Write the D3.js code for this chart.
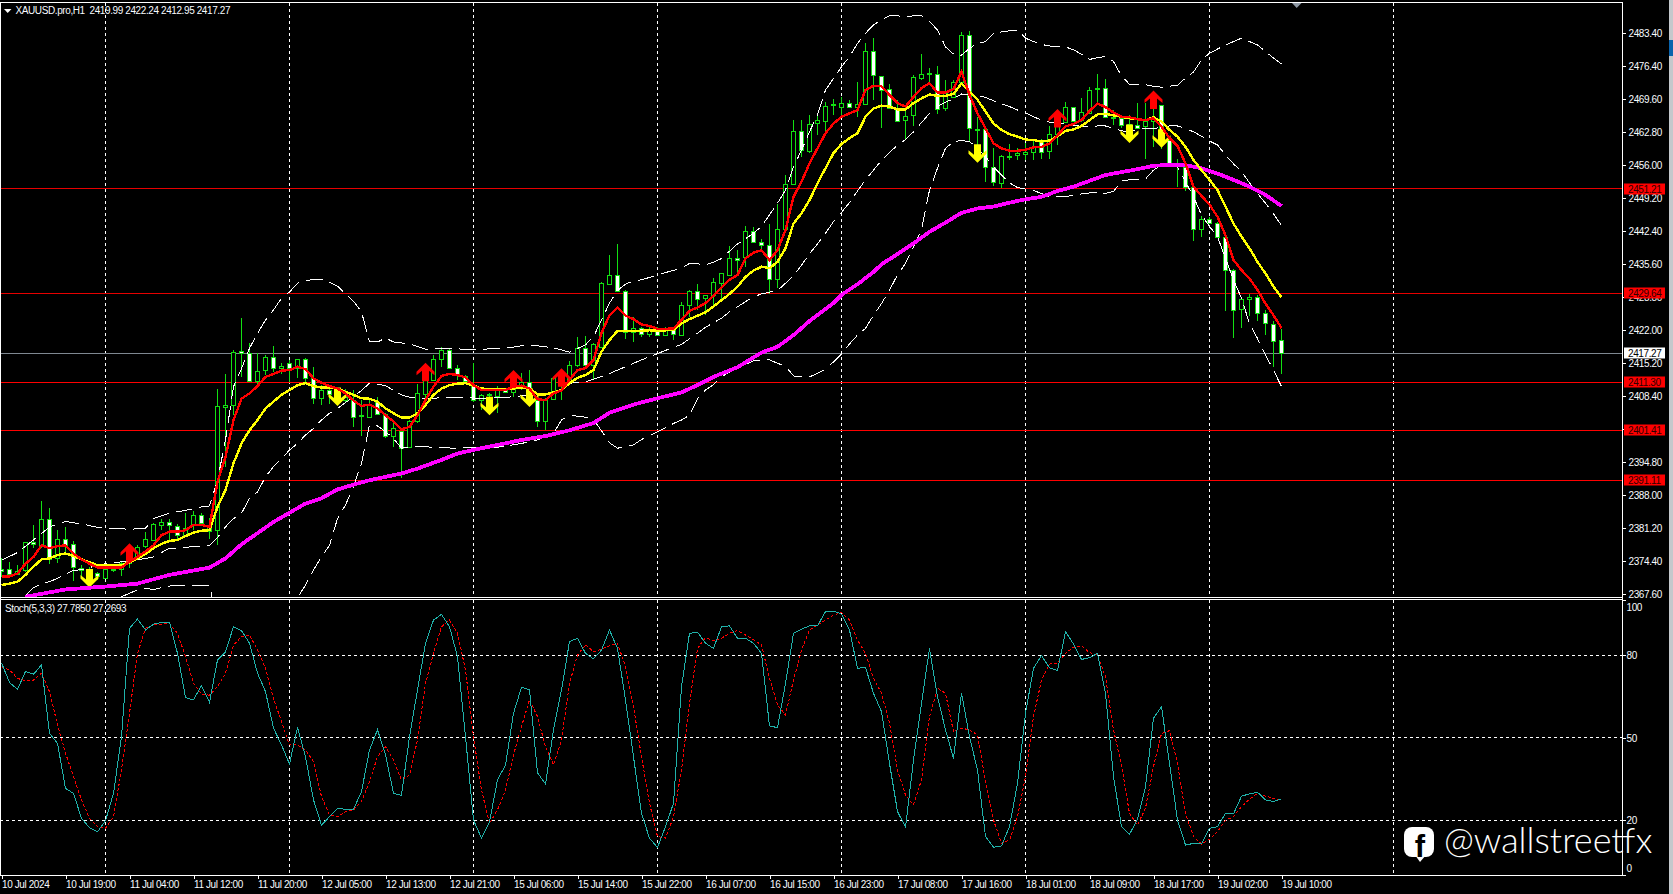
<!DOCTYPE html>
<html>
<head>
<meta charset="utf-8">
<title>XAUUSD.pro,H1</title>
<script src="https://cdn.jsdelivr.net/npm/d3@7"></script>
<style>
  html, body { margin: 0; padding: 0; background: #000; overflow: hidden; }
  svg { display: block; }
  text { font-family: "Liberation Sans", sans-serif; font-size: 10px; letter-spacing: -0.4px; fill: #f8fbff; white-space: pre; }
  .domain { display: none; }
  .tick line { stroke: #fff; shape-rendering: crispEdges; }
</style>
</head>
<body>
<svg width="1673" height="894"></svg>
<script>
// candles, one entry per H1 bar
const candleOpen = [2372.9,2372.9,2371.8,2372.5,2378.4,2377.7,2383.2,2375.0,2378.9,2377.9,2373.0,2372.9,2371.9,2371.0,2372.8,2372.9,2374.1,2375.3,2377.4,2378.8,2381.9,2382.6,2381.7,2379.9,2381.9,2384.0,2380.7,2380.8,2406.2,2406.7,2417.8,2417.3,2411.6,2413.7,2416.4,2414.2,2415.3,2414.2,2416.0,2412.1,2408.0,2409.6,2408.0,2407.6,2407.6,2404.2,2404.2,2407.3,2404.7,2400.1,2401.3,2398.0,2403.2,2408.9,2411.6,2416.0,2417.9,2414.2,2412.6,2410.7,2407.6,2408.6,2408.5,2409.7,2409.2,2410.5,2411.4,2407.6,2403.2,2407.8,2412.1,2411.0,2414.7,2418.3,2414.8,2418.6,2431.5,2433.4,2430.2,2421.6,2422.4,2421.2,2421.8,2421.0,2422.0,2421.1,2427.3,2430.2,2428.6,2429.2,2431.8,2433.6,2437.0,2437.0,2442.4,2440.1,2439.5,2432.5,2442.8,2452.1,2463.1,2459.0,2464.6,2465.2,2468.4,2468.1,2468.9,2468.1,2468.6,2479.5,2474.5,2471.7,2467.7,2465.3,2466.3,2474.1,2474.9,2474.9,2467.7,2470.1,2473.2,2482.8,2463.5,2463.4,2455.6,2452.4,2457.9,2458.1,2458.3,2458.8,2461.2,2458.8,2462.4,2465.0,2468.0,2465.2,2466.8,2471.7,2471.9,2465.7,2465.7,2464.1,2464.4,2464.0,2465.0,2468.4,2461.2,2455.7,2455.7,2451.5,2442.8,2445.0,2444.2,2441.2,2434.4,2426.3,2428.4,2428.8,2425.5,2423.4,2419.99]
const candleHigh = [2375.0,2374.3,2373.6,2378.4,2381.9,2386.8,2385.3,2380.8,2381.4,2378.6,2373.6,2373.3,2372.2,2373.3,2373.6,2374.3,2376.0,2377.7,2380.4,2382.2,2383.2,2383.2,2382.1,2384.3,2384.8,2384.3,2383.4,2409.9,2413.0,2417.9,2424.5,2419.3,2417.3,2416.9,2418.8,2415.3,2415.9,2416.0,2416.2,2414.5,2410.7,2410.2,2409.3,2410.0,2409.7,2407.6,2407.6,2408.3,2404.9,2402.8,2401.8,2403.5,2410.9,2413.1,2416.9,2418.5,2418.1,2414.8,2412.8,2415.2,2408.9,2409.1,2410.5,2410.0,2412.8,2413.3,2413.9,2408.6,2408.0,2412.4,2412.4,2415.7,2420.6,2420.8,2419.3,2432.0,2437.5,2439.8,2430.3,2424.8,2422.7,2422.7,2422.7,2422.7,2422.7,2427.9,2430.4,2431.5,2429.3,2432.7,2433.9,2439.4,2438.5,2443.5,2443.3,2440.9,2444.0,2448.0,2454.0,2465.3,2465.3,2466.4,2466.7,2469.1,2469.6,2470.1,2469.5,2473.1,2481.1,2482.3,2474.5,2472.7,2469.5,2468.1,2474.6,2478.9,2476.0,2476.5,2473.6,2473.6,2483.5,2483.6,2465.9,2463.4,2459.5,2458.1,2460.4,2459.5,2460.5,2461.2,2461.5,2464.1,2464.3,2469.1,2468.1,2469.9,2472.2,2474.8,2473.8,2467.4,2466.2,2466.4,2468.8,2468.8,2469.1,2468.4,2461.6,2457.4,2455.9,2451.7,2445.5,2445.4,2444.4,2441.3,2434.6,2428.8,2429.5,2429.3,2426.2,2424.0,2422.24]
const candleLow = [2371.2,2371.2,2371.6,2372.2,2377.1,2377.1,2373.8,2374.0,2376.0,2370.4,2371.2,2371.2,2370.5,2370.9,2372.2,2371.4,2373.1,2374.7,2377.1,2378.6,2380.8,2378.6,2378.6,2379.8,2380.8,2382.2,2379.0,2377.7,2393.9,2404.5,2412.4,2411.4,2410.5,2412.8,2413.5,2413.0,2411.4,2412.1,2411.4,2406.9,2406.6,2406.9,2407.3,2407.3,2402.1,2400.2,2403.9,2404.5,2399.9,2398.0,2391.5,2397.9,2403.0,2408.0,2411.5,2414.5,2414.0,2411.8,2411.1,2407.3,2405.6,2408.3,2404.9,2409.0,2408.3,2409.7,2408.2,2402.0,2401.4,2407.6,2407.6,2410.7,2414.5,2414.5,2411.8,2418.3,2431.3,2430.0,2420.3,2419.6,2420.7,2420.7,2421.0,2420.8,2420.1,2421.0,2424.8,2426.2,2425.1,2426.7,2428.2,2433.4,2433.7,2435.1,2439.9,2438.2,2429.5,2430.8,2442.7,2451.9,2457.8,2458.6,2462.2,2462.9,2466.4,2466.0,2467.9,2466.0,2468.4,2469.5,2463.6,2467.5,2465.2,2461.5,2464.0,2473.6,2472.5,2466.6,2467.2,2469.8,2472.5,2460.9,2459.8,2452.6,2451.8,2451.4,2457.0,2457.1,2457.1,2457.1,2457.4,2457.4,2460.2,2464.8,2465.0,2465.0,2466.7,2469.1,2465.7,2464.3,2463.6,2462.2,2463.6,2457.3,2459.7,2459.3,2456.3,2451.6,2450.8,2440.3,2441.3,2444.0,2441.2,2426.0,2420.5,2422.5,2424.9,2423.9,2421.0,2414.4,2412.95]
const candleClose = [2372.5,2371.9,2372.5,2378.3,2377.9,2383.2,2375.0,2378.9,2377.7,2373.1,2372.6,2371.8,2371.2,2372.9,2372.9,2374.1,2375.3,2377.4,2378.9,2382.1,2382.6,2381.9,2379.9,2381.3,2384.0,2382.3,2381.5,2406.4,2406.7,2417.6,2417.3,2411.6,2413.7,2416.4,2414.2,2414.7,2414.2,2416.0,2412.1,2408.0,2409.6,2408.7,2408.7,2408.2,2404.2,2404.5,2406.6,2404.9,2400.1,2401.8,2397.9,2403.4,2409.0,2411.8,2416.0,2417.9,2414.2,2413.0,2411.6,2407.6,2408.6,2408.9,2409.7,2409.2,2410.5,2411.4,2408.3,2403.2,2407.6,2412.1,2411.0,2414.8,2418.3,2414.8,2419.1,2431.7,2433.4,2430.1,2421.7,2422.4,2421.2,2422.0,2421.0,2422.5,2421.2,2427.3,2430.2,2428.6,2429.2,2431.9,2433.9,2437.0,2436.6,2442.4,2440.1,2439.5,2432.5,2442.8,2452.1,2463.1,2459.1,2464.6,2465.3,2468.3,2468.7,2468.9,2468.1,2468.7,2479.5,2474.5,2471.7,2467.7,2465.3,2466.2,2474.1,2474.9,2475.1,2467.7,2470.8,2473.2,2482.8,2463.6,2463.4,2455.6,2452.5,2457.9,2458.0,2458.6,2458.8,2459.8,2458.8,2462.4,2464.3,2468.0,2465.2,2466.9,2471.5,2471.9,2466.0,2466.0,2464.3,2464.5,2463.8,2465.1,2465.7,2461.2,2456.4,2456.4,2451.5,2442.8,2444.9,2444.2,2441.3,2434.4,2426.2,2428.4,2428.8,2425.5,2423.4,2419.9,2417.27]

// fast and slow moving averages, one entry per bar
const maFast = [2371.3,2371.3,2371.9,2373.9,2375.3,2377.7,2377.1,2377.5,2377.7,2376.0,2374.8,2373.9,2373.1,2373.1,2373.1,2373.1,2374.3,2375.3,2376.4,2377.7,2379.8,2380.5,2380.5,2380.8,2381.9,2381.9,2381.5,2390.8,2395.9,2403.5,2407.9,2409.0,2410.5,2412.4,2413.0,2413.7,2413.8,2414.5,2414.0,2412.1,2411.2,2410.5,2410.0,2409.0,2407.5,2406.4,2406.7,2405.9,2404.5,2403.2,2401.6,2402.1,2404.5,2407.6,2410.4,2412.6,2413.0,2412.8,2412.3,2410.7,2409.7,2409.7,2409.7,2409.7,2410.4,2410.6,2410.0,2407.8,2407.6,2409.0,2409.6,2411.8,2413.8,2414.2,2415.9,2421.4,2425.1,2426.7,2425.0,2424.3,2423.2,2422.9,2422.3,2422.3,2422.4,2424.1,2426.0,2426.7,2427.6,2429.1,2430.8,2432.4,2433.4,2436.8,2438.0,2438.5,2436.5,2438.5,2442.7,2449.5,2452.6,2456.4,2459.5,2462.6,2464.6,2466.0,2466.7,2467.4,2471.5,2472.4,2472.3,2470.5,2468.8,2468.1,2470.1,2471.9,2472.9,2471.0,2471.0,2471.7,2475.3,2470.5,2466.7,2463.6,2460.5,2459.5,2459.0,2459.0,2459.2,2459.7,2459.8,2460.5,2462.2,2464.0,2464.5,2465.3,2467.2,2468.7,2468.0,2466.9,2466.0,2465.9,2465.5,2465.3,2465.7,2464.0,2461.6,2460.0,2456.4,2451.6,2449.7,2447.9,2445.4,2441.6,2436.5,2434.4,2432.7,2430.3,2427.5,2425.1,2422.5]
const maSlow = [2369.5,2369.8,2370.2,2371.6,2373.3,2374.8,2375.0,2375.7,2376.0,2375.5,2374.8,2374.2,2373.6,2373.6,2373.6,2373.6,2374.2,2375.0,2375.9,2377.1,2378.0,2378.6,2378.8,2379.6,2380.3,2380.7,2380.8,2385.6,2389.1,2394.6,2398.7,2401.4,2403.5,2405.9,2407.3,2408.7,2409.7,2410.7,2411.1,2410.5,2410.2,2410.2,2410.0,2409.3,2408.7,2408.0,2407.9,2407.3,2405.9,2404.9,2404.0,2404.0,2404.9,2406.6,2408.7,2410.0,2410.7,2411.0,2411.1,2410.6,2410.0,2409.9,2409.9,2409.9,2410.0,2410.2,2410.0,2408.8,2408.8,2409.2,2409.7,2411.1,2412.2,2412.8,2413.8,2417.6,2420.0,2421.9,2421.9,2421.9,2421.9,2422.0,2422.0,2422.0,2422.1,2423.4,2424.3,2425.0,2425.7,2426.9,2428.2,2429.5,2431.0,2433.0,2434.3,2435.1,2434.8,2436.1,2438.9,2444.0,2446.1,2448.8,2452.3,2455.4,2458.5,2460.4,2461.6,2462.6,2466.0,2467.7,2468.3,2468.1,2467.5,2467.5,2468.8,2469.8,2470.6,2470.3,2470.3,2470.7,2472.9,2471.2,2469.5,2467.1,2464.6,2463.3,2462.4,2461.9,2461.3,2461.2,2460.9,2461.1,2462.0,2463.1,2463.4,2464.1,2465.3,2466.5,2466.6,2466.3,2466.0,2465.7,2465.5,2465.3,2465.9,2465.0,2463.3,2461.9,2459.8,2457.1,2455.0,2453.0,2450.9,2447.5,2444.0,2441.3,2438.9,2436.1,2433.7,2431.0,2428.8]

// the long moving average and the three bands, read at the bars listed
const maLongBars = [3,8,13,17,21,26,28,30,34,36,38,40,42,44,46,50,52,55,57,60,65,68,71,74,76,79,82,85,87,89,92,95,97,99,101,104,105,107,109,110,112,114,116,118,120,122,124,126,128,130,132,134,136,138,140,142,144,146,148,150,152,154,156,158,160]
const maLong = [2367.1,2368.6,2369.2,2369.8,2371.6,2373.1,2375.0,2377.9,2382.5,2384.4,2386.3,2387.4,2389.2,2390.2,2391.1,2392.5,2393.5,2395.3,2396.6,2397.7,2399.4,2400.2,2401.4,2402.9,2405.0,2406.7,2408.0,2409.2,2410.7,2412.4,2414.4,2417.4,2418.6,2421.0,2423.9,2427.6,2429.3,2431.5,2434.0,2435.6,2437.7,2439.9,2442.3,2444.2,2446.2,2447.1,2447.5,2448.3,2449.0,2449.5,2450.7,2451.6,2452.8,2454.0,2454.6,2455.2,2455.9,2456.1,2456.0,2455.4,2454.3,2453.0,2451.6,2449.9,2447.6]

const bandUpperBars = [0,2,5,6,8,10,12,14,16,18,19,21,23,25,26,27,28,29,30,31,32,33,34,35,36,37,38,39,40,41,42,43,44,45,46,47,48,49,51,53,55,58,60,63,65,67,69,71,73,74,75,76,77,78,79,80,81,82,83,85,86,87,88,89,90,92,94,95,97,98,99,100,101,102,103,104,105,106,107,108,109,110,111,112,113,114,115,116,117,118,119,120,121,122,123,124,125,126,127,128,129,130,131,132,133,134,135,136,137,138,139,140,141,142,143,144,145,146,147,148,149,150,151,153,155,157,159,160]
const bandUpper = [2374.6,2376.2,2380.1,2381.5,2382.6,2382.1,2381.4,2381.2,2381.0,2381.2,2383.2,2384.3,2384.9,2385.6,2385.8,2391.1,2399.4,2410.4,2414.1,2418.3,2421.4,2424.1,2426.2,2428.6,2429.9,2431.7,2432.2,2432.5,2432.5,2431.9,2431.1,2429.5,2428.0,2425.8,2419.6,2419.6,2420.4,2419.6,2419.2,2418.1,2418.3,2418.1,2418.1,2418.3,2418.8,2418.8,2418.4,2417.5,2419.0,2420.7,2424.1,2427.6,2430.2,2431.5,2432.2,2432.4,2432.9,2433.4,2433.9,2434.8,2435.8,2435.7,2435.5,2436.0,2436.8,2439.8,2442.0,2443.4,2448.2,2450.9,2455.7,2459.1,2462.9,2466.4,2471.5,2473.9,2476.3,2478.4,2481.1,2483.2,2484.9,2486.0,2486.8,2486.8,2486.6,2486.8,2486.8,2485.6,2483.9,2480.4,2478.9,2478.7,2480.1,2481.1,2481.5,2483.2,2483.5,2483.7,2483.9,2482.2,2481.5,2480.9,2480.6,2480.4,2480.4,2479.8,2478.9,2477.8,2478.2,2478.4,2477.4,2474.4,2472.7,2472.7,2472.6,2472.3,2472.1,2472.3,2472.5,2474.0,2475.2,2477.7,2479.1,2480.8,2482.2,2480.8,2478.1,2476.9]

const bandMiddleBars = [3,4,5,6,7,8,9,10,11,12,13,14,15,16,17,18,19,20,21,22,23,24,25,26,27,28,29,30,31,32,33,34,35,36,37,38,39,40,41,42,43,44,45,46,47,48,49,50,51,53,56,58,60,62,64,66,68,70,71,73,74,76,78,80,82,84,85,87,88,90,91,93,94,95,97,98,99,100,101,102,103,104,105,106,107,108,109,110,111,112,113,114,115,116,117,118,119,120,121,122,123,124,125,126,127,128,129,130,131,132,133,134,135,136,137,138,139,140,141,142,143,144,145,146,147,148,149,150,151,152,153,154,155,156,157,158,159,160]
const bandMiddle = [2367.4,2369.0,2369.7,2370.2,2370.9,2371.8,2372.5,2372.7,2373.1,2373.6,2373.9,2374.1,2374.3,2374.5,2374.7,2375.0,2375.3,2376.2,2377.1,2377.1,2377.3,2377.4,2377.5,2377.7,2379.3,2381.5,2383.2,2384.3,2387.4,2388.7,2391.8,2393.9,2395.6,2397.3,2398.7,2400.4,2401.8,2403.5,2404.9,2405.9,2407.1,2408.3,2409.6,2411.1,2410.9,2410.6,2409.6,2408.7,2408.2,2408.0,2408.1,2408.1,2408.0,2408.1,2408.3,2408.7,2409.0,2409.6,2411.1,2411.4,2411.9,2413.1,2414.5,2415.9,2417.2,2418.5,2419.1,2421.4,2422.6,2424.5,2425.8,2427.9,2428.9,2429.5,2430.2,2431.7,2433.2,2435.4,2437.8,2439.8,2442.0,2444.4,2446.3,2448.3,2450.7,2453.0,2455.0,2457.0,2458.7,2460.1,2461.3,2462.9,2464.8,2466.7,2468.1,2469.0,2469.7,2470.7,2470.6,2470.3,2470.0,2469.3,2468.7,2468.1,2467.4,2466.8,2466.0,2465.3,2464.9,2464.8,2464.6,2464.3,2464.0,2464.0,2464.1,2464.1,2463.6,2463.1,2462.9,2463.3,2463.6,2463.6,2463.8,2464.1,2464.1,2463.6,2462.9,2462.0,2461.0,2460.2,2458.1,2456.3,2454.7,2452.4,2450.2,2448.2,2446.0,2443.6]

const bandLowerBars = [15,17,18,19,21,23,25,26,27,28,29,30,31,32,33,34,35,36,37,38,39,40,41,42,43,44,45,46,47,48,49,50,51,53,55,57,59,62,64,66,67,69,70,71,73,74,75,76,77,79,80,82,84,85,86,87,88,89,90,91,92,93,94,95,96,97,98,99,100,101,102,103,104,105,106,107,108,109,110,111,112,113,114,115,116,117,118,119,120,121,122,123,124,125,126,127,128,129,130,131,132,133,134,135,136,137,138,139,140,141,142,143,144,145,146,147,148,149,150,151,152,153,154,155,156,157,158,159,160]
const bandLower = [2367.1,2368.5,2368.8,2368.6,2369.3,2369.5,2369.5,2369.4,2362,2350,2342,2340,2342,2345,2350,2354,2359,2363.7,2366.9,2369.5,2372.6,2375.3,2377.7,2383.2,2386.0,2389.8,2394.6,2402.5,2402.3,2401.1,2399.7,2397.7,2398.0,2398.0,2397.8,2397.7,2397.9,2397.9,2398.4,2399.0,2399.4,2400.8,2403.5,2404.5,2404.1,2403.6,2401.3,2398.8,2397.7,2398.4,2399.5,2401.1,2402.8,2403.5,2404.5,2407.9,2409.7,2410.8,2412.4,2413.4,2414.5,2415.0,2415.7,2415.9,2415.9,2415.2,2414.6,2412.6,2412.4,2412.4,2413.1,2414.0,2415.5,2417.1,2419.2,2421.0,2422.4,2425.1,2427.5,2430.3,2433.4,2435.8,2439.2,2442.7,2450.9,2455.4,2459.5,2460.9,2461.1,2460.9,2459.5,2457.8,2455.7,2454.0,2452.4,2451.4,2451.1,2450.8,2450.2,2449.5,2449.5,2449.5,2449.9,2450.1,2450.3,2450.3,2450.2,2450.6,2452.8,2453.0,2453.0,2453.2,2455.0,2456.1,2456.4,2455.6,2452.6,2449.5,2445.8,2443.4,2441.3,2436.8,2432.4,2428.6,2423.4,2420.3,2416.9,2413.8,2410.4]

// stochastic %K and %D, one entry per bar
const stochMain = [77.3,70.1,67.6,74.1,73.1,76.5,51.6,48.0,31.6,29.8,20.7,17.3,15.8,19.9,29.8,50.4,89.8,93.2,89.2,91.3,92.0,92.0,80.7,64.6,63.8,69.0,62.9,78.3,81.2,90.4,89.0,84.4,73.5,66.8,53.5,47.4,40.5,53.8,43.1,27.4,18.2,21.3,24.4,24.0,24.0,30.4,45.6,52.9,43.8,29.8,29.1,50.4,67.4,84.4,92.8,94.9,90.4,79.5,50.4,20.1,13.5,19.5,34.7,40.1,58.9,68.4,67.4,37.3,33.2,52.9,67.4,85.0,86.2,80.7,78.7,81.9,89.2,82.5,63.8,43.1,22.5,13.5,10.1,17.7,26.2,68.6,88.0,88.4,84.4,82.5,90.4,90.7,86.2,86.2,84.4,80.7,54.3,53.7,69.8,88.0,89.5,90.7,90.7,95.9,96.1,95.0,89.2,75.3,75.6,66.2,59.5,40.7,23.2,17.5,41.9,62.5,82.5,65.0,52.9,42.5,66.2,50.4,38.3,14.1,10.2,10.7,17.7,33.5,58.9,75.3,79.9,75.5,74.4,88.6,84.1,78.5,79.1,80.7,66.2,35.9,17.7,14.9,20.4,32.2,57.1,61.3,40.7,20.1,11.0,11.6,11.4,17.1,17.7,22.5,22.3,28.8,29.6,30.2,27.4,26.8,27.785]
const stochSignal = [75.9,74.7,71.6,70.7,71.0,73.5,66.8,54.7,44.4,35.9,27.4,20.7,17.7,17.1,21.3,38.3,58.9,80.7,89.8,91.0,91.3,91.6,88.0,79.5,69.8,65.8,65.5,68.6,73.5,83.7,86.8,87.4,81.9,75.3,64.3,55.9,47.4,47.4,45.6,41.3,28.6,21.9,21.3,23.2,23.8,26.8,34.0,43.1,46.8,41.9,34.7,36.5,49.2,69.8,80.7,90.4,92.8,88.0,74.7,50.4,31.0,18.9,23.8,31.0,43.8,54.1,63.8,57.7,46.8,40.1,49.2,69.8,80.1,83.8,81.3,82.2,83.5,84.4,75.9,61.3,43.1,26.2,14.1,13.5,21.3,38.3,62.5,82.5,86.5,85.3,86.2,88.0,89.0,87.4,85.6,83.8,71.6,61.9,58.3,71.0,81.9,89.2,91.0,92.8,94.7,95.5,92.8,85.6,80.7,71.6,66.2,55.3,38.3,29.2,25.6,34.7,57.7,68.0,66.2,52.2,53.5,52.9,51.0,34.1,20.1,11.6,12.8,21.3,35.9,57.7,71.0,76.8,77.1,80.7,82.9,83.4,81.0,80.1,72.2,52.9,40.1,22.5,18.3,24.4,39.5,51.6,52.6,40.7,22.5,14.1,11.4,13.1,15.9,20.0,21.3,25.0,27.6,29.8,28.8,28.0,27.2693]

// signal arrows: bar and the price of the arrow tip
const upArrowBars = [16,53,64,70,132,144]
const upArrowPrices = [2378.1,2415.3,2413.8,2414.2,2467.6,2471.4]
const downArrowBars = [11,42,61,66,122,141,145]
const downArrowPrices = [2369.0,2406.4,2404.5,2406.2,2456.5,2460.6,2459.6]

// horizontal levels
const levelPrices = [2451.21,2429.64,2411.30,2401.41,2391.11]
const lastPrice = 2417.27

// axis ticks
const priceTicks = [2483.2,2476.4,2469.6,2462.8,2456,2449.2,2442.4,2435.6,2428.8,2422,2415.2,2408.4,2401.6,2394.8,2388,2381.2,2374.4,2367.6]
const priceTickLabels = ['2483.40','2476.40','2469.60','2462.80','2456.00','2449.20','2442.40','2435.60','2428.80','2422.00','2415.20','2408.40','2401.60','2394.80','2388.00','2381.20','2374.40','2367.60']
const stochTicks = [100,80,50,20,0]
const stochLevels = [80,50,20]
const timeTickBars = [0,8,16,24,32,40,48,56,64,72,80,88,96,104,112,120,128,136,144,152,160]
const timeTickLabels = ['10 Jul 2024','10 Jul 19:00','11 Jul 04:00','11 Jul 12:00','11 Jul 20:00','12 Jul 05:00','12 Jul 13:00','12 Jul 21:00','15 Jul 06:00','15 Jul 14:00','15 Jul 22:00','16 Jul 07:00','16 Jul 15:00','16 Jul 23:00','17 Jul 08:00','17 Jul 16:00','18 Jul 01:00','18 Jul 09:00','18 Jul 17:00','19 Jul 02:00','19 Jul 10:00']
const gridBars = [13,36,59,82,105,128,151,174]

// scales, bars are 8px apart
const barScale = d3.scaleLinear().domain([0, 160]).range([1.5, 1281.5])
const priceScale = d3.scaleLinear().domain([2367.6, 2483.2]).range([594.3, 33.3])
const stochScale = d3.scaleLinear().domain([0, 100]).range([875.3, 600.3])

const chartRight = 1622.5
const mainTop = 2.5, mainBottom = 597.5
const stochTop = 599.5, stochBottom = 875.5

const svg = d3.select('svg')

// window sliver on the right
svg.append('rect').attr('x', 1669).attr('y', 0).attr('width', 4).attr('height', 894).attr('fill', '#c4c8cc')
svg.append('rect').attr('x', 1669).attr('y', 40).attr('width', 4).attr('height', 16).attr('fill', '#0a64ad')

// clipping for the two panes
const defs = svg.append('defs')
defs.append('clipPath').attr('id', 'mainClip').append('rect')
  .attr('x', 0).attr('y', mainTop).attr('width', chartRight).attr('height', mainBottom - mainTop)
defs.append('clipPath').attr('id', 'stochClip').append('rect')
  .attr('x', 0).attr('y', stochTop).attr('width', chartRight).attr('height', stochBottom - stochTop)

const mainPane = svg.append('g').attr('clip-path', 'url(#mainClip)')
const stochPane = svg.append('g').attr('clip-path', 'url(#stochClip)')

// vertical grid in both panes
const drawGrid = function (pane, top, bottom) {
  pane.selectAll('line.grid')
    .data(gridBars)
    .enter()
    .append('line')
    .attr('class', 'grid')
    .attr('x1', d => barScale(d)).attr('x2', d => barScale(d))
    .attr('y1', top).attr('y2', bottom)
    .attr('stroke', '#fff')
    .attr('stroke-dasharray', '3 3')
    .attr('shape-rendering', 'crispEdges')
}
drawGrid(mainPane, mainTop, mainBottom)
drawGrid(stochPane, stochTop, stochBottom)

// price levels
mainPane.selectAll('line.level')
  .data(levelPrices)
  .enter()
  .append('line')
  .attr('class', 'level')
  .attr('x1', 0).attr('x2', chartRight)
  .attr('y1', d => priceScale(d)).attr('y2', d => priceScale(d))
  .attr('stroke', (d, i) => i < 2 ? '#e60000' : '#ff0000')
  .attr('shape-rendering', 'crispEdges')

mainPane.append('line')
  .attr('x1', 0).attr('x2', chartRight)
  .attr('y1', priceScale(lastPrice)).attr('y2', priceScale(lastPrice))
  .attr('stroke', '#7f8891')
  .attr('shape-rendering', 'crispEdges')

// candles
const candleGreen = '#12e012'
const bars = candleOpen.map((o, i) => ({ i, o, h: candleHigh[i], l: candleLow[i], c: candleClose[i] }))

mainPane.selectAll('line.wick')
  .data(bars)
  .enter()
  .append('line')
  .attr('class', 'wick')
  .attr('x1', d => barScale(d.i)).attr('x2', d => barScale(d.i))
  .attr('y1', d => priceScale(d.h)).attr('y2', d => priceScale(d.l))
  .attr('stroke', candleGreen)
  .attr('shape-rendering', 'crispEdges')

mainPane.selectAll('rect.body')
  .data(bars)
  .enter()
  .append('rect')
  .attr('class', 'body')
  .attr('x', d => barScale(d.i) - 2)
  .attr('width', 4)
  .attr('y', d => Math.round(priceScale(Math.max(d.o, d.c))) + 0.5)
  .attr('height', d => Math.max(1, Math.round(Math.abs(priceScale(d.o) - priceScale(d.c)))))
  .attr('fill', d => d.c >= d.o ? '#000' : '#fff')
  .attr('stroke', candleGreen)
  .attr('shape-rendering', 'crispEdges')

// line helpers
const seriesLine = (scale) => d3.line().x(d => barScale(d[0])).y(d => scale(d[1]))
const priceLine = seriesLine(priceScale)
const stochLine = seriesLine(stochScale)
const perBar = values => values.map((v, i) => [i, v])

// bollinger bands, dashed
const bands = [d3.zip(bandUpperBars, bandUpper), d3.zip(bandMiddleBars, bandMiddle), d3.zip(bandLowerBars, bandLower)]
mainPane.selectAll('path.band')
  .data(bands)
  .enter()
  .append('path')
  .attr('class', 'band')
  .attr('d', priceLine)
  .attr('fill', 'none')
  .attr('stroke', '#fff')
  .attr('stroke-dasharray', '17 7')
  .attr('shape-rendering', 'crispEdges')

// arrows, tip at the anchor price
const upShape = [[0,0],[9,9],[9,12.5],[3.5,8],[3.5,18.5],[-3.5,18.5],[-3.5,8],[-9,12.5],[-9,9]]
const downShape = upShape.map(p => [p[0], -p[1]])
const arrowLine = d3.line().curve(d3.curveLinearClosed)

const drawArrows = function (barsList, prices, shape, colour) {
  mainPane.selectAll('path.arrow-' + colour.slice(1))
    .data(d3.zip(barsList, prices))
    .enter()
    .append('path')
    .attr('class', 'arrow-' + colour.slice(1))
    .attr('d', arrowLine(shape))
    .attr('transform', d => `translate(${barScale(d[0])},${priceScale(d[1])})`)
    .attr('fill', colour)
}
drawArrows(upArrowBars, upArrowPrices, upShape, '#ff0000')
drawArrows(downArrowBars, downArrowPrices, downShape, '#ffff00')

// moving averages
mainPane.append('path').datum(d3.zip(maLongBars, maLong))
  .attr('d', priceLine).attr('fill', 'none').attr('stroke', '#ff00ff').attr('stroke-width', 3.8)
  .attr('shape-rendering', 'crispEdges')
mainPane.append('path').datum(perBar(maSlow))
  .attr('d', priceLine).attr('fill', 'none').attr('stroke', '#ffff00').attr('stroke-width', 2.4)
  .attr('shape-rendering', 'crispEdges')
mainPane.append('path').datum(perBar(maFast))
  .attr('d', priceLine).attr('fill', 'none').attr('stroke', '#ff0000').attr('stroke-width', 2.4)
  .attr('shape-rendering', 'crispEdges')

// stochastic pane
stochPane.selectAll('line.stochlevel')
  .data(stochLevels)
  .enter()
  .append('line')
  .attr('class', 'stochlevel')
  .attr('x1', 0).attr('x2', chartRight)
  .attr('y1', d => stochScale(d)).attr('y2', d => stochScale(d))
  .attr('stroke', '#fff')
  .attr('stroke-dasharray', '3 3')
  .attr('shape-rendering', 'crispEdges')

stochPane.append('path').datum(perBar(stochSignal))
  .attr('d', stochLine).attr('fill', 'none').attr('stroke', '#ff0000').attr('stroke-dasharray', '3 2')
  .attr('shape-rendering', 'crispEdges')
stochPane.append('path').datum(perBar(stochMain))
  .attr('d', stochLine).attr('fill', 'none').attr('stroke', '#20b2aa')
  .attr('shape-rendering', 'crispEdges')

// frames
const frameLine = function (x1, y1, x2, y2) {
  svg.append('line').attr('x1', x1).attr('y1', y1).attr('x2', x2).attr('y2', y2)
    .attr('stroke', '#fff').attr('shape-rendering', 'crispEdges')
}
frameLine(0, mainTop, chartRight, mainTop)
frameLine(0, mainBottom, chartRight, mainBottom)
frameLine(0, stochTop, chartRight, stochTop)
frameLine(0, stochBottom, chartRight, stochBottom)
frameLine(0.5, mainTop, 0.5, stochBottom)
frameLine(chartRight, mainTop, chartRight, stochBottom)

// axes
const priceAxis = d3.axisRight(priceScale)
  .tickValues(priceTicks)
  .tickFormat((d, i) => priceTickLabels[i])
  .tickSize(3)
  .tickPadding(3)
svg.append('g').attr('transform', `translate(${chartRight},0)`).call(priceAxis)

const stochAxis = d3.axisRight(stochScale)
  .tickValues(stochTicks)
  .tickSize(3)
  .tickPadding(1)
const stochAxisGroup = svg.append('g').attr('transform', `translate(${chartRight},0)`).call(stochAxis)
// top and bottom labels sit inside the pane
stochAxisGroup.selectAll('text').attr('dy', d => d === 100 ? '1.0em' : d === 0 ? '-0.35em' : '0.32em')

const timeAxis = d3.axisBottom(barScale)
  .tickValues(timeTickBars)
  .tickFormat((d, i) => timeTickLabels[i])
  .tickSize(3)
  .tickPadding(2)
svg.append('g').attr('transform', `translate(0,${stochBottom})`).call(timeAxis)
  .selectAll('text').attr('text-anchor', 'start')

svg.selectAll('g.tick text').style('font-family', '"Liberation Sans", sans-serif').style('font-size', '10px')

// price tags
const tags = levelPrices.map(p => ({ p, bg: '#ff0000', fg: '#300000' })).concat([{ p: lastPrice, bg: '#fff', fg: '#000' }])
const tag = svg.selectAll('g.tag').data(tags).enter().append('g').attr('class', 'tag')
  .attr('transform', d => `translate(1624,${Math.round(priceScale(d.p))})`)
tag.append('rect').attr('x', 0).attr('y', -5.5).attr('width', 41).attr('height', 11).attr('fill', d => d.bg)
tag.append('text').attr('x', 4).attr('dy', '0.36em').style('fill', d => d.fg).text(d => d.p.toFixed(2))

// pane captions
svg.append('path').attr('d', 'M4,9H11.5L7.7,13Z').attr('fill', '#fff')
svg.append('text').attr('x', 15.5).attr('y', 14.3).text('XAUUSD.pro,H1  2419.99 2422.24 2412.95 2417.27')
svg.append('text').attr('x', 5).attr('y', 611.5).text('Stoch(5,3,3) 27.7850 27.2693')

// chart shift marker
svg.append('path').attr('d', 'M1292,3H1301.5L1296.7,8Z').attr('fill', '#8d97a3')

// watermark
const mark = svg.append('g')
mark.append('rect').attr('x', 1404).attr('y', 827).attr('width', 30).attr('height', 30).attr('rx', 8).attr('fill', '#fff')
mark.append('path').attr('d', 'M1415,855L1420,862L1426,855Z').attr('fill', '#fff')
mark.append('text').attr('x', 1420).attr('y', 857).attr('text-anchor', 'middle')
  .style('font-family', '"Liberation Sans", sans-serif').style('font-weight', 'bold').style('font-size', '31px')
  .style('letter-spacing', '0').style('fill', '#000').text('f')
mark.append('text').attr('x', 1444).attr('y', 853)
  .style('font-family', 'Lato, sans-serif').style('font-weight', '300').style('font-size', '36px')
  .style('letter-spacing', '0').style('fill', '#fff').text('@wallstreetfx')
</script>
</body>
</html>
